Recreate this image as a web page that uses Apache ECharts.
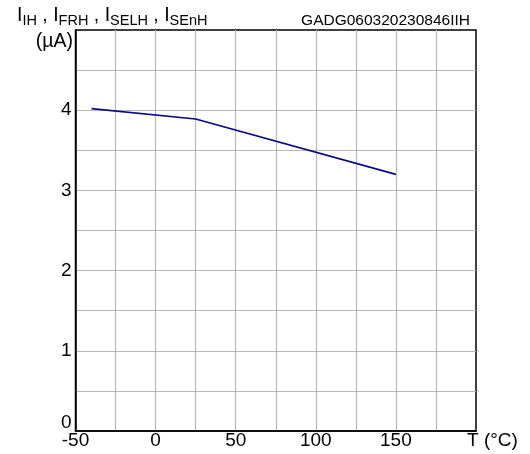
<!DOCTYPE html>
<html>
<head>
<meta charset="utf-8">
<script src="https://cdn.jsdelivr.net/npm/echarts@6/dist/echarts.min.js"></script>
<style>
  html, body { margin: 0; padding: 0; background: #fff; }
  #chart { width: 530px; height: 454px; }
</style>
</head>
<body>
<div id="chart"></div>
<script>
// temperature (°C) and current (µA)
const temps = [-40, 25, 150];
const current = [4.02, 3.89, 3.2];
const xLabels = [-50, 0, 50, 100, 150];
const yLabels = [0, 1, 2, 3, 4];

const font = 'Liberation Sans, Arial, sans-serif';

const chart = echarts.init(document.getElementById('chart'));

const option = {
  animation: false,
  grid: {
    left: 75.5, right: 54, top: 30, bottom: 23,
    show: true, borderColor: '#000', borderWidth: 1.5, backgroundColor: 'transparent'
  },
  xAxis: {
    type: 'value', min: -50, max: 200, interval: 25,
    axisLine: { onZero: false, lineStyle: { color: '#000', width: 1.5 } },
    axisTick: { show: false },
    splitLine: { show: true, showMinLine: false, showMaxLine: false, lineStyle: { color: '#b8b8b8', width: 1.2 } },
    axisLabel: {
      color: '#000', fontSize: 19, fontFamily: font, margin: 0,
      showMaxLabel: true, showMinLabel: true,
      formatter: v => xLabels.includes(v) ? String(v) : ''
    }
  },
  yAxis: {
    type: 'value', min: 0, max: 5, interval: 0.5,
    axisLine: { show: true, onZero: false, lineStyle: { color: '#000', width: 1.5 } },
    axisTick: { show: false },
    splitLine: { show: true, showMinLine: false, showMaxLine: false, lineStyle: { color: '#b8b8b8', width: 1.2 } },
    axisLabel: {
      color: '#000', fontSize: 19, fontFamily: font, margin: 4,
      formatter: v => v === 0 ? '{z|0}' : (yLabels.includes(v) ? String(v) : ''),
      rich: { z: { fontSize: 19, fontFamily: font, color: '#000', padding: [0, 0, 16, 0] } }
    }
  },
  series: [{
    type: 'line',
    data: temps.map((t, i) => [t, current[i]]),
    symbol: 'none',
    lineStyle: { color: '#0a0a80', width: 1.6 }
  }],
  graphic: [
    {
      type: 'text', left: 17, top: 6,
      style: {
        text: '{m|I}{s|IH}{m| , I}{s|FRH}{m| , I}{s|SELH}{m| , I}{s|SEnH}',
        rich: {
          m: { fontSize: 19.5, fontFamily: font, fill: '#000', lineHeight: 22, verticalAlign: 'bottom' },
          s: { fontSize: 14.5, fontFamily: font, fill: '#000', lineHeight: 22, verticalAlign: 'bottom', padding: [0, 0, -2, 0] }
        }
      }
    },
    {
      type: 'text', right: 530 - 73, top: 32,
      style: { text: '(µA)', fontSize: 19.5, fontFamily: font, fill: '#000' }
    },
    {
      type: 'text', right: 530 - 470, top: 13,
      style: { text: 'GADG060320230846IIH', fontSize: 15.5, fontFamily: font, fill: '#000' }
    },
    {
      type: 'text', left: 467, top: 431,
      style: { text: 'T (°C)', fontSize: 19, fontFamily: font, fill: '#000' }
    }
  ]
};

chart.setOption(option);
</script>
</body>
</html>
